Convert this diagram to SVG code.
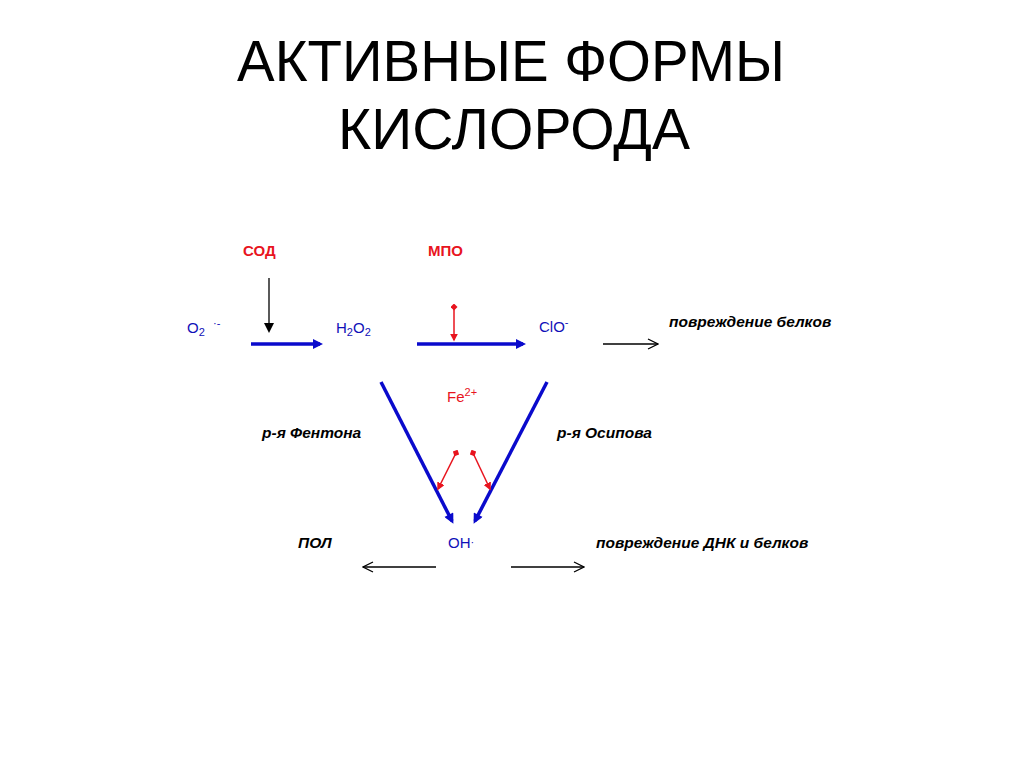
<svg xmlns="http://www.w3.org/2000/svg" width="1024" height="767" viewBox="0 0 1024 767">
<style>
.title{font-family:"Liberation Sans",Arial,sans-serif;font-size:58px;fill:#000;text-anchor:middle}
.chem{font-family:"Liberation Sans",Arial,sans-serif;font-size:15px;fill:#1010B8}
.enz{font-family:"Liberation Sans",Arial,sans-serif;font-size:15px;font-weight:bold;fill:#E8141E}
.note{font-family:"Liberation Sans",Arial,sans-serif;font-size:15.5px;font-weight:bold;font-style:italic;fill:#000}
.blue{stroke:#0A0ACC;stroke-width:3.5;fill:none}
.red{stroke:#E8141E;stroke-width:1.5;fill:none}
.thin{stroke:#000;stroke-width:1.3;fill:none}
</style>
<defs>
<marker id="hb" viewBox="0 0 10 10" refX="7" refY="5" markerWidth="11" markerHeight="10" markerUnits="userSpaceOnUse" orient="auto"><path d="M0,0 L10,5 L0,10 z" fill="#0A0ACC"/></marker>
<marker id="hk" viewBox="0 0 10 10" refX="8" refY="5" markerWidth="10" markerHeight="10" markerUnits="userSpaceOnUse" orient="auto"><path d="M0,0 L10,5 L0,10 z" fill="#000"/></marker>
<marker id="ho" viewBox="0 0 12 12" refX="11" refY="6" markerWidth="12" markerHeight="12" markerUnits="userSpaceOnUse" orient="auto"><path d="M1,1 L11,6 L1,11" fill="none" stroke="#000" stroke-width="1.3"/></marker>
<marker id="hr" viewBox="0 0 10 10" refX="8" refY="5" markerWidth="8" markerHeight="8" markerUnits="userSpaceOnUse" orient="auto"><path d="M0,0 L10,5 L0,10 z" fill="#E8141E"/></marker>
<marker id="dr" viewBox="0 0 10 10" refX="5" refY="5" markerWidth="7" markerHeight="7" markerUnits="userSpaceOnUse" orient="auto"><path d="M5,0 L10,5 L5,10 L0,5 z" fill="#E8141E"/></marker>
</defs>

<g id="title">
<text class="title" x="511" y="81" textLength="548" lengthAdjust="spacingAndGlyphs">АКТИВНЫЕ ФОРМЫ</text>
<text class="title" x="514" y="149" textLength="352" lengthAdjust="spacingAndGlyphs">КИСЛОРОДА</text>
</g>

<g id="connectors">
<line class="thin" x1="269" y1="278" x2="269" y2="331" stroke-width="2" marker-end="url(#hk)"/>
<line class="blue" x1="251" y1="344" x2="320" y2="344" marker-end="url(#hb)"/>
<line class="blue" x1="417" y1="344" x2="523" y2="344" marker-end="url(#hb)"/>
<line class="red" x1="454" y1="307" x2="454" y2="340" marker-start="url(#dr)" marker-end="url(#hr)"/>
<line class="thin" x1="603" y1="344" x2="658" y2="344" marker-end="url(#ho)"/>
<line class="blue" x1="381" y1="382" x2="452" y2="521" marker-end="url(#hb)"/>
<line class="blue" x1="547" y1="382" x2="475" y2="521" marker-end="url(#hb)"/>
<line class="red" x1="456" y1="453" x2="438" y2="489" marker-start="url(#dr)" marker-end="url(#hr)"/>
<line class="red" x1="473" y1="453" x2="490" y2="489" marker-start="url(#dr)" marker-end="url(#hr)"/>
<line class="thin" x1="436" y1="567" x2="363" y2="567" marker-end="url(#ho)"/>
<line class="thin" x1="511" y1="567" x2="584" y2="567" marker-end="url(#ho)"/>
</g>

<g id="sod"><text class="enz" x="243" y="256">СОД</text></g>
<g id="mpo"><text class="enz" x="428" y="256">МПО</text></g>
<g id="o2"><text class="chem" x="187" y="333">O<tspan font-size="11" dy="3">2</tspan><tspan font-size="11" x="213" dy="-9">·-</tspan></text></g>
<g id="h2o2"><text class="chem" x="336" y="333">H<tspan font-size="11" dy="3">2</tspan><tspan dy="-3">O</tspan><tspan font-size="11" dy="3">2</tspan></text></g>
<g id="clo"><text class="chem" x="539" y="332">ClO<tspan font-size="11" dy="-6">-</tspan></text></g>
<g id="damage1"><text class="note" x="669" y="327">повреждение белков</text></g>
<g id="fe"><text class="enz" style="font-weight:normal" x="447" y="402">Fe<tspan font-size="11" dy="-6">2+</tspan></text></g>
<g id="fenton"><text class="note" x="262" y="438">р-я Фентона</text></g>
<g id="osipov"><text class="note" x="557" y="438">р-я Осипова</text></g>
<g id="pol"><text class="note" x="298" y="548">ПОЛ</text></g>
<g id="oh"><text class="chem" x="448" y="548">OH<tspan font-size="11" dy="-2">·</tspan></text></g>
<g id="damage2"><text class="note" x="596" y="548">повреждение ДНК и белков</text></g>
</svg>
